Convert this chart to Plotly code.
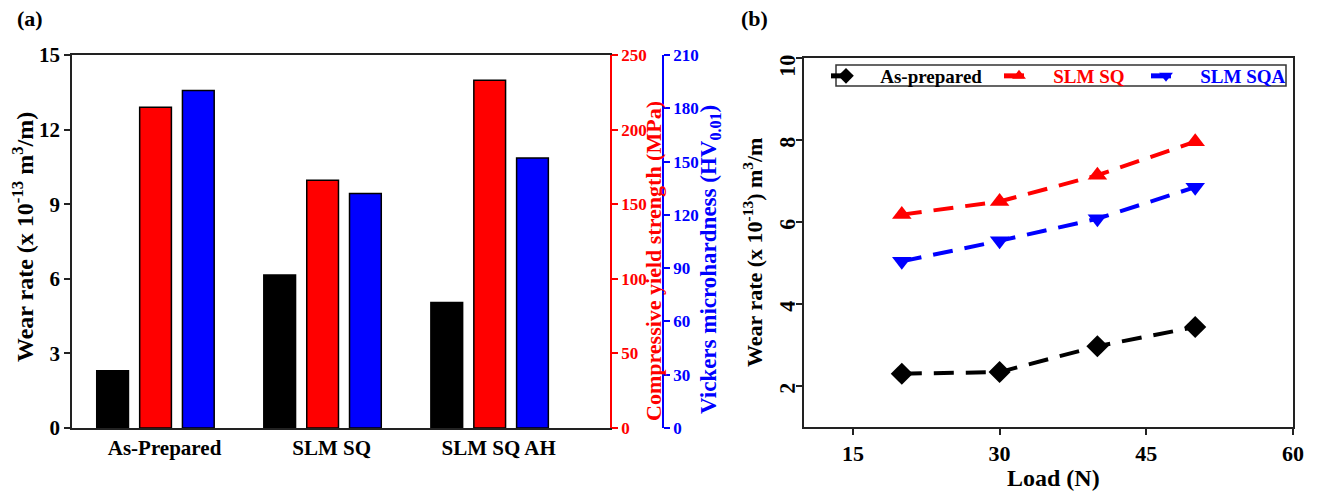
import plotly.graph_objects as go

W, H = 1317, 492

# ---- data panel (a)
categories = ["As-Prepared", "SLM SQ", "SLM SQ AH"]
wear_rate = [2.3, 6.15, 5.05]            # x 10^-13 m^3/m
yield_strength = [215, 166, 233]         # MPa
microhardness = [190, 132, 152]          # HV0.01

# ---- data panel (b)
load = [20, 30, 40, 50]
wear_as_prepared = [2.30, 2.34, 2.97, 3.44]
wear_slm_sq = [6.18, 6.50, 7.14, 7.96]
wear_slm_sqa = [5.04, 5.54, 6.08, 6.85]
series_names = ["As-prepared", "SLM SQ", "SLM SQA"]

FONT = "Liberation Serif"
PAD = "&nbsp;&nbsp;&nbsp;"


def px_x(p):
    return p / W


def px_y(p):
    return 1 - p / H


fig = go.Figure()

bar_w = 0.19
fig.add_trace(go.Bar(x=categories, y=wear_rate, width=bar_w, offset=-0.352,
                     marker=dict(color="black", line=dict(color="black", width=1.5)),
                     xaxis="x", yaxis="y", showlegend=False))
fig.add_trace(go.Bar(x=categories, y=yield_strength, width=bar_w, offset=-0.095,
                     marker=dict(color="#ff0000", line=dict(color="black", width=1.5)),
                     xaxis="x", yaxis="y2", showlegend=False))
fig.add_trace(go.Bar(x=categories, y=microhardness, width=bar_w, offset=0.161,
                     marker=dict(color="#0000ff", line=dict(color="black", width=1.5)),
                     xaxis="x", yaxis="y3", showlegend=False))

dash = "20px,12px"
fig.add_trace(go.Scatter(x=load, y=wear_as_prepared, mode="lines+markers",
                         name=PAD + "<span style='color:black'>" + series_names[0] + "</span>",
                         line=dict(color="black", width=4, dash=dash),
                         marker=dict(symbol="diamond", size=17, color="black"),
                         legendwidth=128, xaxis="x2", yaxis="y4"))
fig.add_trace(go.Scatter(x=load, y=wear_slm_sq, mode="lines+markers",
                         name=PAD + "<span style='color:#ff0000'>" + series_names[1] + "</span>",
                         line=dict(color="#ff0000", width=4, dash=dash),
                         marker=dict(symbol="triangle-up", size=17, color="#ff0000"),
                         legendwidth=102, xaxis="x2", yaxis="y4"))
fig.add_trace(go.Scatter(x=load, y=wear_slm_sqa, mode="lines+markers",
                         name=PAD + "<span style='color:#0000ff'>" + series_names[2] + "</span>",
                         line=dict(color="#0000ff", width=4, dash=dash),
                         marker=dict(symbol="triangle-down", size=17, color="#0000ff"),
                         legendwidth=110, xaxis="x2", yaxis="y4"))

tickfont = dict(family=FONT, size=21, color="black", weight="bold")
axcol = "#222222"

fig.update_layout(
    width=W, height=H,
    margin=dict(l=0, r=0, t=0, b=0, autoexpand=False),
    paper_bgcolor="white", plot_bgcolor="white",
    barmode="overlay",
    font=dict(family=FONT, color="black"),
    xaxis=dict(domain=[px_x(72), px_x(610)], anchor="y", type="category",
               range=[-0.5, 2.72], showline=True, linecolor=axcol, linewidth=1.5,
               mirror=True, ticks="", showgrid=False, zeroline=False,
               tickfont=tickfont, ticklabelshift=9, automargin=False),
    yaxis=dict(domain=[px_y(428), px_y(55)], anchor="x", range=[0, 15],
               tickvals=[0, 3, 6, 9, 12, 15], showline=True, linecolor=axcol,
               linewidth=1.5, ticks="outside", ticklen=6, tickwidth=1.5,
               tickcolor=axcol, showgrid=False, zeroline=False, tickfont=tickfont,
               automargin=False),
    yaxis2=dict(overlaying="y", anchor="x", side="right", range=[0, 250],
                tickvals=[0, 50, 100, 150, 200, 250], showline=True,
                linecolor="#ff0000", linewidth=1.5, ticks="outside", ticklen=6,
                tickwidth=1.5, tickcolor="#ff0000", showgrid=False, zeroline=False,
                tickfont=dict(family=FONT, size=17, color="#ff0000", weight="bold"),
                automargin=False),
    yaxis3=dict(overlaying="y", anchor="free", side="right", position=px_x(663),
                range=[0, 210], tickvals=[0, 30, 60, 90, 120, 150, 180, 210],
                showline=True, linecolor="#0000ff", linewidth=1.5, ticks="outside",
                ticklen=6, tickwidth=1.5, tickcolor="#0000ff", showgrid=False,
                zeroline=False, automargin=False,
                tickfont=dict(family=FONT, size=17, color="#0000ff", weight="bold")),
    xaxis2=dict(domain=[px_x(804), px_x(1293)], anchor="y4", range=[10, 60],
                tickvals=[15, 30, 45, 60], showline=True, linecolor=axcol,
                linewidth=1.5, mirror=True, ticks="outside", ticklen=6,
                tickwidth=1.5, tickcolor=axcol, showgrid=False, zeroline=False,
                automargin=False,
                tickfont=dict(family=FONT, size=22, color="black", weight="bold")),
    yaxis4=dict(domain=[px_y(427), px_y(58)], anchor="x2", range=[1, 10],
                tickvals=[2, 4, 6, 8, 10], tickangle=-89.9, showline=True,
                linecolor=axcol, linewidth=1.5, mirror=True, ticks="outside",
                ticklen=6, tickwidth=1.5, tickcolor=axcol, showgrid=False,
                zeroline=False, automargin=False, ticklabelstandoff=8,
                tickfont=dict(family=FONT, size=22, color="black", weight="bold")),
    legend=dict(orientation="h", x=px_x(826), y=px_y(76), xanchor="left",
                yanchor="middle", bgcolor="rgba(0,0,0,0)", borderwidth=0,
                font=dict(family=FONT, size=19, weight="bold"),
                itemsizing="constant"),
)

# legend frame
fig.add_shape(type="rect", xref="paper", yref="paper",
              x0=px_x(836), x1=px_x(1286), y0=px_y(86), y1=px_y(65),
              line=dict(color="#333333", width=1.5), layer="below")

ann = [
    dict(text="<b>(a)</b>", x=px_x(30), y=px_y(18), size=22, color="black", angle=0),
    dict(text="<b>(b)</b>", x=px_x(754), y=px_y(18), size=22, color="black", angle=0),
    dict(text="<b>Wear rate (x 10<sup>-13</sup> m<sup>3</sup>/m)</b>", x=px_x(23),
         y=px_y(237), size=24, color="black", angle=-90),
    dict(text="<b>Compressive yield strength (MPa)</b>", x=px_x(653), y=px_y(261),
         size=22, color="#ff0000", angle=-90),
    dict(text="<b>Vickers microhardness (HV<sub>0.01</sub>)</b>", x=px_x(710),
         y=px_y(260), size=23, color="#0000ff", angle=-90),
    dict(text="<b>Wear rate (x 10<sup>-13</sup>) m<sup>3</sup>/m</b>", x=px_x(753),
         y=px_y(253), size=22, color="black", angle=-90),
    dict(text="<b>Load (N)</b>", x=px_x(1053), y=px_y(478), size=24, color="black",
         angle=0),
]
for a in ann:
    fig.add_annotation(text=a["text"], x=a["x"], y=a["y"], xref="paper", yref="paper",
                       xanchor="center", yanchor="middle", showarrow=False,
                       textangle=a["angle"],
                       font=dict(family=FONT, size=a["size"], color=a["color"]))

fig.write_html("out.html", config={"displayModeBar": False},
               post_script="document.body.style.margin='0';document.body.style.padding='0';")
